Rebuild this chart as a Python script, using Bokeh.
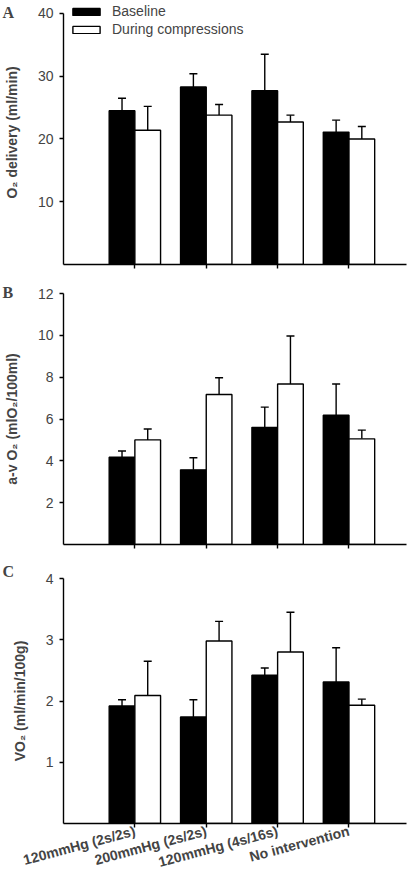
from bokeh.plotting import figure
from bokeh.models import (ColumnDataSource, FixedTicker, Whisker, TeeHead, Legend,
                          LegendItem, Label, Range1d)
from bokeh.layouts import column
from bokeh.embed import file_html
from bokeh.resources import INLINE

categories = ["120mmHg (2s/2s)", "200mmHg (2s/2s)", "120mmHg (4s/16s)", "No intervention"]
series_names = ["Baseline", "During compressions"]

# Panel A: O2 delivery (ml/min)
a_baseline = [24.5, 28.3, 27.7, 21.1]
a_baseline_err = [2.0, 2.1, 5.8, 1.9]
a_during = [21.4, 23.8, 22.7, 20.0]
a_during_err = [3.8, 1.7, 1.1, 2.0]
a_ticks = [10, 20, 30, 40]

# Panel B: a-v O2 (mlO2/100ml)
b_baseline = [4.17, 3.57, 5.60, 6.18]
b_baseline_err = [0.30, 0.58, 0.97, 1.49]
b_during = [5.00, 7.17, 7.67, 5.05]
b_during_err = [0.52, 0.80, 2.30, 0.42]
b_ticks = [2, 4, 6, 8, 10, 12]

# Panel C: VO2 (ml/min/100g)
c_baseline = [1.92, 1.74, 2.42, 2.31]
c_baseline_err = [0.10, 0.28, 0.12, 0.56]
c_during = [2.09, 2.98, 2.80, 1.93]
c_during_err = [0.56, 0.32, 0.65, 0.10]
c_ticks = [1, 2, 3, 4]

SANS = "Liberation Sans"
SERIF = "Liberation Serif"
BAR_W = 0.36
OFF = 0.18
BORDER_R = 14


def make_panel(base, base_err, dur, dur_err, ticks, ymax_axis, yend, ylabel,
               letter, letter_y, height, border_top, border_bottom, show_labels, legend):
    p = figure(width=420, height=height, x_range=Range1d(0, 4.806), y_range=Range1d(0, yend),
               output_backend="svg", toolbar_location=None,
               min_border_left=60, min_border_right=BORDER_R,
               min_border_top=border_top, min_border_bottom=border_bottom)
    p.outline_line_color = None
    p.xgrid.grid_line_color = None
    p.ygrid.grid_line_color = None
    p.background_fill_color = "white"

    pos = [i + 1 for i in range(len(categories))]
    src_b = ColumnDataSource(dict(x=[v - OFF for v in pos], top=base,
                                  upper=[t + e for t, e in zip(base, base_err)]))
    src_d = ColumnDataSource(dict(x=[v + OFF for v in pos], top=dur,
                                  upper=[t + e for t, e in zip(dur, dur_err)]))
    for src in (src_b, src_d):
        w = Whisker(base="x", lower="top", upper="upper", source=src,
                    line_color="black", line_width=1.4, lower_head=None,
                    upper_head=TeeHead(size=8, line_color="black", line_width=1.4))
        p.add_layout(w)
    rb = p.vbar(x="x", top="top", bottom=0, width=BAR_W, source=src_b,
                fill_color="black", line_color="black", line_width=1.4)
    rd = p.vbar(x="x", top="top", bottom=0, width=BAR_W, source=src_d,
                fill_color="white", line_color="black", line_width=1.4)

    # y axis
    p.yaxis.ticker = FixedTicker(ticks=ticks)
    p.yaxis.bounds = (0, ymax_axis)
    p.yaxis.axis_label = ylabel
    p.yaxis.axis_label_text_font = SANS
    p.yaxis.axis_label_text_font_style = "bold"
    p.yaxis.axis_label_text_font_size = "14px"
    p.yaxis.axis_label_standoff = 15
    p.yaxis.major_label_text_font = SANS
    p.yaxis.major_label_text_font_size = "14px"
    p.yaxis.major_label_standoff = 6
    p.yaxis.major_tick_in = 0
    p.yaxis.major_tick_out = 4
    p.yaxis.minor_tick_line_color = None
    p.yaxis.axis_line_width = 1.4
    p.yaxis.major_tick_line_width = 1.4

    # x axis (line runs on to the right edge of the canvas)
    p.xaxis.ticker = FixedTicker(ticks=pos)
    p.xaxis.bounds = (0, 5.0)
    p.xaxis.major_tick_in = 0
    p.xaxis.major_tick_out = 4
    p.xaxis.minor_tick_line_color = None
    p.xaxis.axis_line_width = 1.4
    p.xaxis.major_tick_line_width = 1.4
    if show_labels:
        p.xaxis.major_label_overrides = {v: c for v, c in zip(pos, categories)}
        p.xaxis.major_label_orientation = 0.26
        p.xaxis.major_label_text_font = SANS
        p.xaxis.major_label_text_font_style = "bold"
        p.xaxis.major_label_text_font_size = "14px"
        p.xaxis.major_label_standoff = 3
    else:
        p.xaxis.major_label_overrides = {v: "" for v in pos}
        p.xaxis.major_label_text_font_size = "0px"
        p.xaxis.major_label_standoff = 0

    # panel letter: a side-panel annotation (not clipped to the frame),
    # shifted to the far left of the canvas
    p.add_layout(Label(x=2 - (420 - BORDER_R), y=letter_y, x_units="screen", y_units="data",
                       text=letter, text_font=SERIF, text_font_style="bold",
                       text_font_size="16px", text_align="left", text_baseline="middle"),
                 "right")

    if legend:
        lg = Legend(items=[LegendItem(label=series_names[0], renderers=[rb]),
                           LegendItem(label=series_names[1], renderers=[rd])],
                    location=(6, 227))
        lg.border_line_color = None
        lg.background_fill_alpha = 0
        lg.glyph_width = 34
        lg.glyph_height = 9
        lg.label_standoff = 9
        lg.label_height = 14
        lg.label_text_font = SANS
        lg.label_text_font_size = "14px"
        lg.spacing = 2
        lg.padding = 0
        lg.margin = 0
        p.add_layout(lg)
    return p


pa = make_panel(a_baseline, a_baseline_err, a_during, a_during_err, a_ticks, 40, 42.07,
                "O\u2082 delivery (ml/min)", "A", 40.16, 272, 0, 8, False, True)
pb = make_panel(b_baseline, b_baseline_err, b_during, b_during_err, b_ticks, 12, 12,
                "a-v O\u2082 (mlO\u2082/100ml)", "B", 12.07, 278, 21, 6, False, False)
pc = make_panel(c_baseline, c_baseline_err, c_during, c_during_err, c_ticks, 4, 4,
                "VO\u2082 (ml/min/100g)", "C", 4.12, 330, 28, 10, True, False)

layout = column(pa, pb, pc, spacing=0)
open("out.html", "w").write(file_html(layout, INLINE))
